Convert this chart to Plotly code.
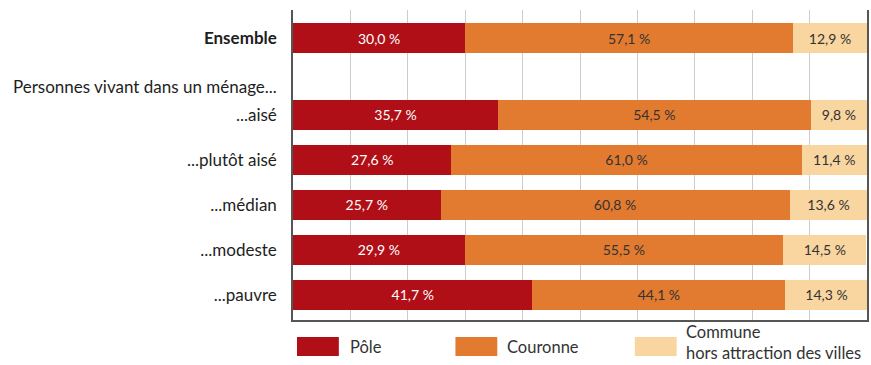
import plotly.graph_objects as go

# ---- data ----
categories = ["<b>Ensemble</b>", "...aisé", "...plutôt aisé", "...médian", "...modeste", "...pauvre"]
group_label = "Personnes vivant dans un ménage..."
pole = [30.0, 35.7, 27.6, 25.7, 29.9, 41.7]
couronne = [57.1, 54.5, 61.0, 60.8, 55.5, 44.1]
commune = [12.9, 9.8, 11.4, 13.6, 14.5, 14.3]
series_names = ["Pôle", "Couronne", "Commune<br>hors attraction des villes"]

# ---- layout positions (row units, pauvre = 0 at bottom) ----
row_pos = [5.71, 4, 3, 2, 1, 0]
group_label_pos = 4.62

colors = ["#B00F17", "#E27A30", "#F9D5A0"]
text_colors = ["#ffffff", "#333333", "#333333"]
FONT = "Lato, 'Open Sans', sans-serif"


def fmt(v):
    return f"{v:.1f} %".replace(".", ",")


fig = go.Figure()
for vals, name, col, tcol in zip([pole, couronne, commune], series_names, colors, text_colors):
    fig.add_trace(go.Bar(
        x=vals, y=row_pos, orientation="h", name=name,
        marker=dict(color=col, line=dict(width=0)),
        width=0.667,
        text=[fmt(v) for v in vals], textposition="inside",
        insidetextanchor="middle",
        textfont=dict(color=tcol, size=14, family=FONT),
        showlegend=False, hoverinfo="skip",
    ))

fig.update_layout(
    barmode="stack",
    width=871, height=365,
    margin=dict(l=293, r=2, t=10, b=45),
    paper_bgcolor="white", plot_bgcolor="white",
    font=dict(family=FONT, size=16, color="#1e1e1e"),
    uniformtext=dict(minsize=14, mode="show"),
)
fig.update_xaxes(
    range=[0, 100], dtick=10, showgrid=True, gridcolor="#cccccc", gridwidth=1,
    showticklabels=False, zeroline=False,
    showline=True, linecolor="#555555", linewidth=1.5,
)
fig.update_yaxes(
    range=[-0.556, 6.333],
    tickvals=row_pos + [group_label_pos],
    ticktext=categories + [group_label],
    showgrid=False, zeroline=False,
    showline=True, mirror=True, linecolor="#555555", linewidth=1.5,
    ticks="", ticklabelstandoff=11,
    tickfont=dict(size=17, color="#1e1e1e", family=FONT),
)

# custom legend
legend_items = [(297, 339, 349, 347), (456, 498, 507, 347), (636, 678, 686, 342.5)]
for (x0, x1, tx, cy), name, col in zip(legend_items, series_names, colors):
    fig.add_shape(type="rect", xref="paper", yref="paper",
                  x0=(x0 - 293) / 576, x1=(x1 - 293) / 576,
                  y0=(320 - 356) / 310, y1=(320 - 337) / 310,
                  fillcolor=col, line=dict(width=0))
    fig.add_annotation(xref="paper", yref="paper",
                       x=(tx - 293) / 576, y=(320 - cy) / 310,
                       xanchor="left", yanchor="middle", align="left",
                       text=name, showarrow=False, borderpad=0,
                       font=dict(size=16.5, color="#333333", family=FONT))

fig.write_html("out.html")
